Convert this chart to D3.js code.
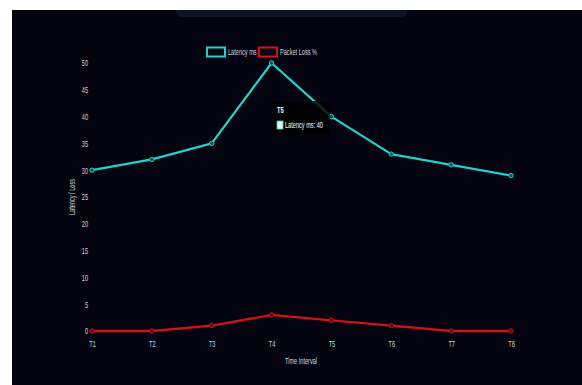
<!DOCTYPE html>
<html>
<head>
<meta charset="utf-8">
<script src="https://cdn.jsdelivr.net/npm/d3@7"></script>
<style>
  html, body { margin: 0; padding: 0; background: #ffffff; }
  svg { display: block; }
  text { font-family: "Liberation Sans", Arial, sans-serif; }
</style>
</head>
<body>
<svg id="chart" width="582" height="385"></svg>
<script>
// Network metrics per time interval
const categories = ["T1", "T2", "T3", "T4", "T5", "T6", "T7", "T8"];
const latencyMs = [30, 32, 35, 50, 40, 33, 31, 29];
const packetLoss = [0, 0, 1, 3, 2, 1, 0, 0];
const yTicks = [0, 5, 10, 15, 20, 25, 30, 35, 40, 45, 50];
const seriesNames = ["Latency ms", "Packet Loss %"];

const svg = d3.select("#chart");
const W = 582, H = 385;
const fs = 8.5;
const squeeze = "scale(0.66,1)";   // condensed lettering

// dark panel
svg.append("rect").attr("x", 12).attr("y", 10).attr("width", W - 12).attr("height", H - 10)
  .attr("fill", "#03040f");
// header bar peeking in at the top
svg.append("rect").attr("x", 176).attr("y", 2).attr("width", 231).attr("height", 15)
  .attr("rx", 5).attr("fill", "#0d1424");
svg.append("rect").attr("x", 0).attr("y", 0).attr("width", W).attr("height", 10).attr("fill", "#ffffff");

const x = d3.scalePoint().domain(categories).range([92, 511]);
const y = d3.scaleLinear().domain([0, 50]).range([331, 63]);

const tickColor = "#d2d4dc";

// places condensed text at (px, py)
function label(parent, px, py, str, anchor, extra) {
  const g = parent.append("g").attr("transform", `translate(${px},${py}) ${extra || ""}`);
  return g.append("text").attr("transform", squeeze).attr("text-anchor", anchor || "start")
    .attr("fill", tickColor).attr("font-size", fs).text(str);
}

// y axis
const yAxis = svg.append("g").attr("transform", "translate(88,0)")
  .call(d3.axisLeft(y).tickValues(yTicks).tickSize(0).tickPadding(0));
yAxis.attr("font-family", null).attr("font-size", null);
yAxis.select(".domain").remove();
yAxis.selectAll("text").attr("fill", tickColor).attr("font-size", fs).attr("dy", "0.35em")
  .attr("transform", squeeze);

// x axis
const xAxis = svg.append("g").attr("transform", "translate(0,341)")
  .call(d3.axisBottom(x).tickSize(0).tickPadding(0));
xAxis.attr("font-family", null).attr("font-size", null);
xAxis.select(".domain").remove();
xAxis.selectAll("text").attr("fill", tickColor).attr("font-size", fs).attr("dy", "0.71em")
  .attr("transform", squeeze);

// axis titles
label(svg, 301, 364, "Time Interval", "middle");
label(svg, 75, 197, "Latency / Loss", "middle", "rotate(-90)");

const series = [
  { name: seriesNames[0], values: latencyMs, color: "#1fd1d1", fill: "#0b4f55" },
  { name: seriesNames[1], values: packetLoss, color: "#d0111b", fill: "#5a0a0e" }
];

const line = d3.line().x((d, i) => x(categories[i])).y(d => y(d));

series.forEach(s => {
  svg.append("path").datum(s.values).attr("d", line)
    .attr("fill", "none").attr("stroke", s.color).attr("stroke-width", 2.3)
    .attr("stroke-linejoin", "round");
  svg.append("g").selectAll("circle").data(s.values).join("circle")
    .attr("cx", (d, i) => x(categories[i])).attr("cy", d => y(d)).attr("r", 2.2)
    .attr("fill", s.fill).attr("stroke", s.color).attr("stroke-width", 1);
});

// legend
const legend = svg.append("g");
const legendItems = [
  { x: 207, color: series[0].color, label: seriesNames[0] },
  { x: 259, color: series[1].color, label: seriesNames[1] }
];
legendItems.forEach(it => {
  legend.append("rect").attr("x", it.x).attr("y", 47.5).attr("width", 18).attr("height", 9)
    .attr("fill", "none").attr("stroke", it.color).attr("stroke-width", 2);
  label(legend, it.x + 21, 55, it.label);
});

// hover tooltip on T5
const tipIdx = 4;
const tip = svg.append("g");
tip.append("rect").attr("x", 272).attr("y", 101).attr("width", 58).attr("height", 34)
  .attr("rx", 3).attr("fill", "rgba(0,0,0,0.8)");
label(tip, 277, 113, categories[tipIdx]).attr("fill", "#ffffff").attr("font-weight", "bold");
tip.append("rect").attr("x", 277).attr("y", 121).attr("width", 6).attr("height", 8)
  .attr("fill", "#e8f6f6").attr("stroke", series[0].color).attr("stroke-width", 0.8);
label(tip, 285, 128, `${seriesNames[0]}: ${latencyMs[tipIdx]}`).attr("fill", "#ffffff");
</script>
</body>
</html>
